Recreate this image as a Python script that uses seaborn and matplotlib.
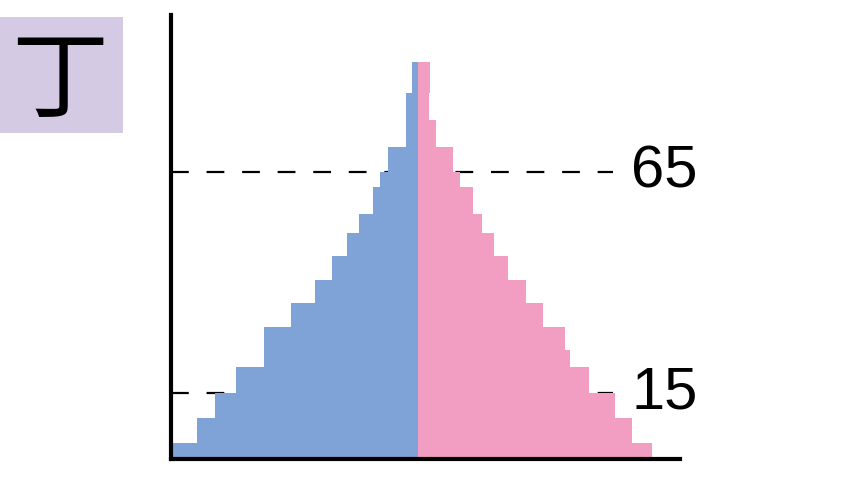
import matplotlib
matplotlib.use("Agg")
import matplotlib.pyplot as plt
from matplotlib.patches import Rectangle
import seaborn as sns
import numpy as np

# age band edges (bottom -> top)
age_edges = [0, 3.7, 9.3, 15, 20.8, 24.8, 30, 35.4, 40.6, 45.9,
             51.3, 55.6, 61.6, 65.1, 70.7, 76.8, 82.9, 89.8]
# bar lengths per band (arbitrary units), bottom -> top
male = [24.6, 22.1, 20.3, 18.2, 15.4, 15.4, 12.7, 10.3, 8.6,
        7.1, 5.9, 4.5, 3.8, 3.0, 1.2, 1.2, 0.6]
female = [23.4, 21.4, 19.7, 17.1, 15.2, 14.7, 12.5, 10.8, 9.0,
          7.6, 6.4, 5.5, 4.2, 3.5, 1.8, 1.1, 1.2]
ref_ages = [65, 15]
panel_label = "丁"

mids = [(a + b) / 2 for a, b in zip(age_edges[:-1], age_edges[1:])]

sns.set_theme(style="white")
plt.rcParams['font.family'] = ['Liberation Sans', 'DejaVu Sans']

fig = plt.figure(figsize=(8.46, 4.94), dpi=100)
ax = fig.add_axes([171 / 846, 0.0702, (680 - 171) / 846, 0.9696 - 0.0702])

# reference lines behind the bars
for a in ref_ages:
    ax.plot([-24.73, 19.5], [a, a], color="black", lw=1.6,
            dashes=(8, 8), zorder=1)

sns.histplot(y=mids, weights=[-v for v in male], bins=age_edges, ax=ax,
             color="#7fa3d6", alpha=1, linewidth=0, zorder=2)
sns.histplot(y=mids, weights=female, bins=age_edges, ax=ax,
             color="#f19ec2", alpha=1, linewidth=0, zorder=2)

for a in ref_ages:
    ax.text(21.3, a, str(a), fontsize=43, ha="left", va="center",
            color="black")

ax.set_xlim(-24.73, 26.17)
ax.set_ylim(0, 100.5)
ax.set_xticks([])
ax.set_yticks([])
ax.set_xlabel("")
ax.set_ylabel("")
sns.despine(ax=ax)
for s in ["left", "bottom"]:
    ax.spines[s].set_color("black")
    ax.spines[s].set_linewidth(3)
    ax.spines[s].set_zorder(5)

# label box top-left
fig.patches.append(Rectangle((0, (494 - 133) / 494), 123 / 846, 116 / 494,
                             transform=fig.transFigure, facecolor="#d5cae3",
                             edgecolor="none", zorder=0))
fig.text(60 / 846, 1 - 82 / 494, panel_label, fontsize=70,
         family=["Noto Sans CJK JP", "DejaVu Sans"],
         ha="center", va="center", color="black")

fig.savefig("out.png", dpi=100)
